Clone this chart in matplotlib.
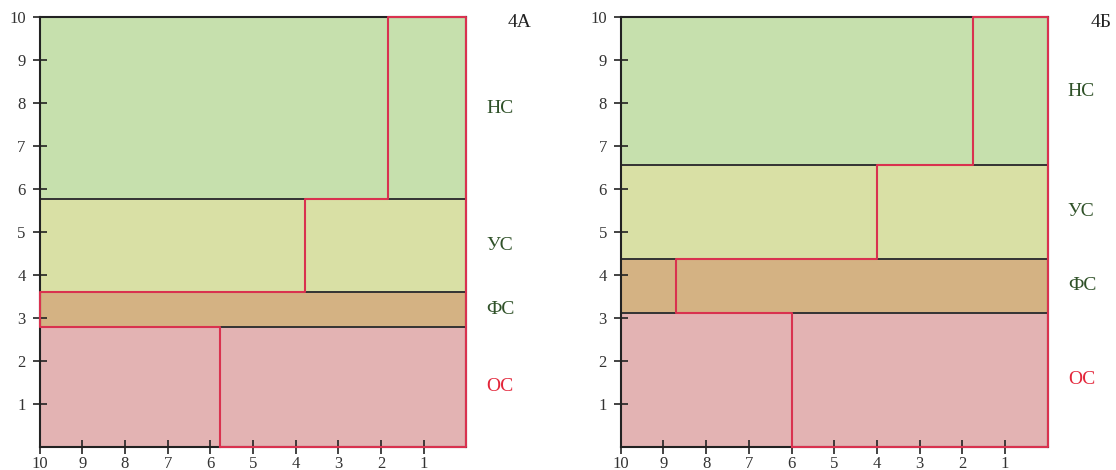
import matplotlib.pyplot as plt
import matplotlib.transforms as mtransforms

plt.rcParams['font.family'] = ['Liberation Serif', 'DejaVu Serif']

# bands from bottom to top
bands = ['ОС', 'ФС', 'УС', 'НС']
band_colors = ['#e3b3b3', '#d4b283', '#d9e0a5', '#c6e0ad']
label_colors = ['#e3263a', '#2f5128', '#2f5128', '#2f5128']

# panel 4А: upper bound of each band and position of the split inside it
tops_a = [2.79, 3.59, 5.77, 10.0]
split_a = [5.77, 10.0, 3.78, 1.83]

# panel 4Б
tops_b = [3.12, 4.38, 6.55, 10.0]
split_b = [6.0, 8.71, 4.0, 1.75]

panels = [('4А', tops_a, split_a, 1.097), ('4Б', tops_b, split_b, 1.10)]

x_ticks = [10, 9, 8, 7, 6, 5, 4, 3, 2, 1]
y_ticks = [1, 2, 3, 4, 5, 6, 7, 8, 9, 10]

red = '#d9324f'

fig = plt.figure(figsize=(11.16, 4.7), dpi=100)
axes = [fig.add_axes([0.0354, 0.05, 0.3826, 0.9132]),
        fig.add_axes([0.5562, 0.05, 0.3826, 0.9132])]

for ax, (name, tops, splits, name_x) in zip(axes, panels):
    bottoms = [0.0] + tops[:-1]
    trans = mtransforms.blended_transform_factory(ax.transAxes, ax.transData)
    for i in range(len(bands)):
        h = tops[i] - bottoms[i]
        # left part (from 10 to split) and right part (from split to 0)
        ax.barh(bottoms[i], 10 - splits[i], height=h, left=splits[i], align='edge',
                color=band_colors[i], edgecolor='none', zorder=1)
        ax.barh(bottoms[i], splits[i], height=h, left=0, align='edge',
                color=band_colors[i], edgecolor='none', zorder=1)
        if i < len(bands) - 1:
            ax.plot([10, 0], [tops[i], tops[i]], color='#333333', lw=1.4, zorder=2)
        # band label on the right, centred in the band
        ax.text(1.047, (bottoms[i] + tops[i]) / 2, bands[i], color=label_colors[i],
                fontsize=14, va='center', ha='left', transform=trans, clip_on=False)

    # red staircase outline
    px = [splits[0]]
    py = [0.0]
    for i in range(len(bands)):
        px.append(splits[i]); py.append(tops[i])
        if i < len(bands) - 1:
            px.append(splits[i + 1]); py.append(tops[i])
    px += [0, 0, splits[0]]
    py += [10, 0, 0]
    ax.plot(px, py, color=red, lw=1.5, zorder=4, clip_on=False)

    ax.text(name_x, 9.88, name, fontsize=14, color='#222222', va='center', ha='left',
            transform=trans)

    ax.set_xlim(10, 0)
    ax.set_ylim(0, 10)
    ax.set_xticks(x_ticks)
    ax.set_yticks(y_ticks)
    ax.set_xticklabels([str(t) for t in x_ticks])
    ax.set_yticklabels([str(t) for t in y_ticks])
    ax.tick_params(direction='inout', length=10, width=1.2, color='#222222',
                   labelsize=12, labelcolor='#333333')
    ax.tick_params(axis='y', pad=5)
    ax.tick_params(axis='x', pad=2)
    for side in ['top', 'bottom', 'left', 'right']:
        ax.spines[side].set_color('#222222')
        ax.spines[side].set_linewidth(1.5)
        ax.spines[side].set_zorder(3)

fig.savefig('out.png', dpi=100)
